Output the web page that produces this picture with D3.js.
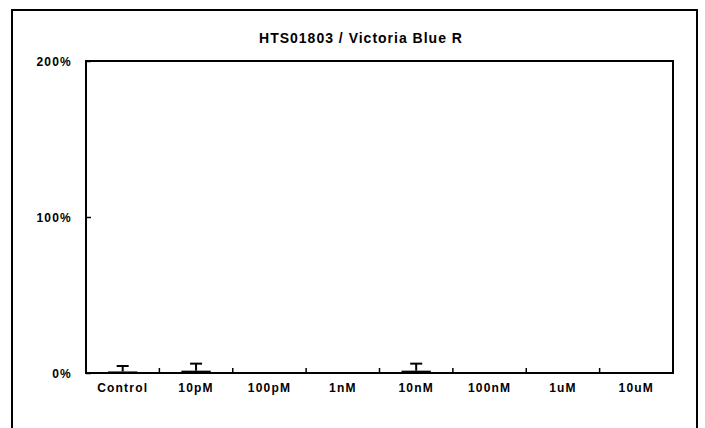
<!DOCTYPE html>
<html><head><meta charset="utf-8">
<script src="https://cdn.jsdelivr.net/npm/d3@7"></script>
<style>body{margin:0;background:#fff}svg{display:block}text{font-family:"Liberation Sans",Arial,sans-serif;font-weight:bold;fill:#000}</style>
</head><body>
<script>
const title = "HTS01803 / Victoria Blue R";
const categories = ["Control","10pM","100pM","1nM","10nM","100nM","1uM","10uM"];
const means = [1.0, 1.5, 0.5, 0.5, 1.5, 0.2, 0, 0];
const errors = [3.5, 4.5, 0, 0, 4.5, 0, 0, 0];
const yTicks = [0, 100, 200];

const W = 705, H = 428;
const m = {left:86, right:W-673, top:61, bottom:H-373};
const svg = d3.select("body").append("svg").attr("width",W).attr("height",H);

// outer frame (bottom edge beyond view)
svg.append("path").attr("d","M12,430V10H697V430").attr("fill","none").attr("stroke","#000").attr("stroke-width",2);

svg.append("text").attr("x",361).attr("y",43).attr("text-anchor","middle")
  .style("font-size","14px").style("letter-spacing","1px").text(title);

const x = d3.scaleBand().domain(categories).range([m.left, W-m.right]);
const y = d3.scaleLinear().domain([0,200]).range([H-m.bottom, m.top]);

const g = svg.append("g");
// bars
g.selectAll("rect.bar").data(categories).join("rect")
  .attr("x", d=>x(d)+x.bandwidth()*0.3).attr("width", x.bandwidth()*0.4)
  .attr("y", (d,i)=>y(means[i])).attr("height",(d,i)=>y(0)-y(means[i]))
  .attr("fill","#000");
// error bars
const eb = categories.map((c,i)=>({c, m:means[i], e:errors[i]})).filter(d=>d.e>0);
g.selectAll("line.err").data(eb).join("line")
  .attr("x1",d=>x(d.c)+x.bandwidth()/2).attr("x2",d=>x(d.c)+x.bandwidth()/2)
  .attr("y1",d=>y(d.m)).attr("y2",d=>y(d.m+d.e)).attr("stroke","#000").attr("stroke-width",2);
g.selectAll("line.cap").data(eb).join("line")
  .attr("x1",d=>x(d.c)+x.bandwidth()/2-6).attr("x2",d=>x(d.c)+x.bandwidth()/2+6)
  .attr("y1",d=>y(d.m+d.e)).attr("y2",d=>y(d.m+d.e)).attr("stroke","#000").attr("stroke-width",2);

// plot border
svg.append("rect").attr("x",m.left).attr("y",m.top).attr("width",W-m.right-m.left).attr("height",H-m.bottom-m.top)
  .attr("fill","none").attr("stroke","#000").attr("stroke-width",2);

// y axis
const ya = svg.append("g").attr("transform",`translate(${m.left},0)`)
  .call(d3.axisLeft(y).tickValues(yTicks).tickFormat(d=>d+"%").tickSizeInner(-5).tickSizeOuter(0).tickPadding(14));
ya.select(".domain").remove();
ya.selectAll("line").attr("stroke","#000").attr("stroke-width",1.5);
ya.selectAll("text").style("font-size","12px").style("letter-spacing","1.2px").attr("dy","0.35em");

// x axis: ticks at category boundaries, labels at centers
const xa = svg.append("g").attr("transform",`translate(0,${H-m.bottom})`)
  .call(d3.axisBottom(x).tickSize(0).tickPadding(10));
xa.select(".domain").remove();
xa.selectAll("text").style("font-size","12px").style("letter-spacing","1.2px").attr("dy","0.71em");
svg.append("g").selectAll("line").data(categories.slice(1)).join("line")
  .attr("x1",d=>x(d)).attr("x2",d=>x(d)).attr("y1",H-m.bottom).attr("y2",H-m.bottom-5)
  .attr("stroke","#000").attr("stroke-width",1.5);
</script>
</body></html>
